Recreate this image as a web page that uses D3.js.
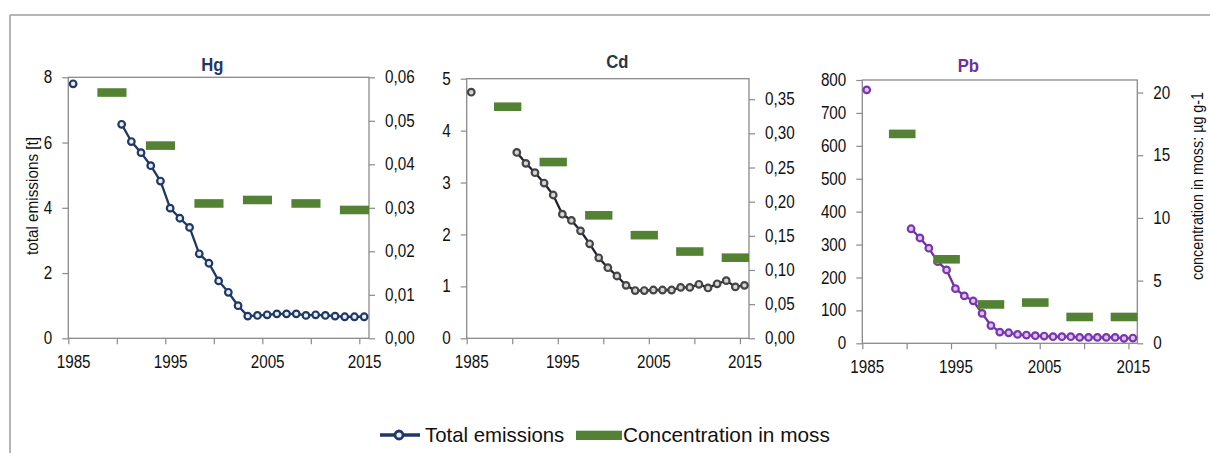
<!DOCTYPE html>
<html><head><meta charset="utf-8">
<script src="https://cdn.jsdelivr.net/npm/d3@7"></script>
<style>
body{margin:0;background:#fff}
svg{display:block}
text{font-family:"Liberation Sans",Arial,Helvetica,sans-serif}
</style>
</head><body>
<svg id="chart" width="1210" height="453"></svg>
<script>
// ---------- DATA ----------
const years = [1985,1986,1987,1988,1989,1990,1991,1992,1993,1994,1995,1996,1997,1998,1999,2000,
               2001,2002,2003,2004,2005,2006,2007,2008,2009,2010,2011,2012,2013,2014,2015];
const yearLabels = [1985,1995,2005,2015];
const yearTicks = [1985,1990,1995,2000,2005,2010,2015];

const hgEmissions = [7.80,null,null,null,null,6.56,6.03,5.69,5.29,4.82,3.99,3.68,3.40,2.59,2.30,1.76,
                     1.41,1.00,0.68,0.70,0.72,0.75,0.75,0.75,0.70,0.72,0.70,0.68,0.66,0.66,0.66];
const cdEmissions = [4.74,null,null,null,null,3.58,3.37,3.19,2.99,2.76,2.39,2.27,2.07,1.82,1.55,1.36,
                     1.20,1.02,0.92,0.92,0.93,0.93,0.93,0.98,0.98,1.04,0.97,1.05,1.11,0.99,1.02];
const pbEmissions = [770,null,null,null,null,348,320,289,248,223,166,144,129,91,54,34,
                     32,27,25,23,22,20,20,20,18,18,18,18,18,15,16];

const mossYears = [1990,1995,2000,2005,2010,2015];
const hgMoss = [0.0565,0.0443,0.0310,0.0318,0.0310,0.0295];
const cdMoss = [0.339,0.258,0.180,0.151,0.127,0.118];
const pbMoss = [16.7,6.7,3.1,3.25,2.1,2.1];

const hgLeftTicks = [0,2,4,6,8];
const hgRightTicks = [0,0.01,0.02,0.03,0.04,0.05,0.06];
const cdLeftTicks = [0,1,2,3,4,5];
const cdRightTicks = [0,0.05,0.10,0.15,0.20,0.25,0.30,0.35];
const pbLeftTicks = [0,100,200,300,400,500,600,700,800];
const pbRightTicks = [0,5,10,15,20];

const titles = ["Hg","Cd","Pb"];
const leftAxisTitle = "total emissions [t]";
const rightAxisTitle = "concentration in moss: µg g-1";
const legendLabels = ["Total emissions","Concentration in moss"];

// ---------- LAYOUT / STYLE ----------
const comma = d3.formatLocale({decimal:",",thousands:"\u00a0",grouping:[3],currency:["",""]});
const intFmt = d3.format("d");
const panels = [
  {title:titles[0], em:hgEmissions, moss:hgMoss, leftMax:8, leftTicks:hgLeftTicks,
   rightMax:0.06, rightTicks:hgRightTicks, rightFmt:comma.format(".2f"),
   box:{l:68.3,r:369,t:77.3,b:338.3}, titleX:212.3, titleY:71, titleColor:"#1f3864",
   line:"#1f3864", mStroke:"#1f3864", mFill:"#e9edf5"},
  {title:titles[1], em:cdEmissions, moss:cdMoss, leftMax:5, leftTicks:cdLeftTicks,
   rightMax:0.38, rightTicks:cdRightTicks, rightFmt:comma.format(".2f"),
   box:{l:466.7,r:749,t:78.7,b:338.3}, titleX:617.3, titleY:68.3, titleColor:"#2a3547",
   line:"#1e2530", mStroke:"#454545", mFill:"#d6d6d6"},
  {title:titles[2], em:pbEmissions, moss:pbMoss, leftMax:800, leftTicks:pbLeftTicks,
   rightMax:21, rightTicks:pbRightTicks, rightFmt:intFmt,
   box:{l:862.3,r:1137.3,t:80,b:343.3}, titleX:968.3, titleY:71.5, titleColor:"#7030a0",
   line:"#7030a0", mStroke:"#7a35b0", mFill:"#dcc6ee"}
];
const mossColor = "#548235";
const frameColor = "#8a8a8a";
const tickFont = 17.5;
const squeeze = 0.87;

function condense(sel, k){
  sel.each(function(){
    const L = this.getComputedTextLength();
    this.setAttribute("textLength", (L*k).toFixed(2));
    this.setAttribute("lengthAdjust","spacingAndGlyphs");
  });
}

const svg = d3.select("#chart");

// outer frame (top and left edges)
svg.append("line").attr("x1",10).attr("x2",1210).attr("y1",15).attr("y2",15)
  .attr("stroke","#b5b5b5").attr("stroke-width",2);
svg.append("line").attr("x1",10).attr("x2",10).attr("y1",15).attr("y2",453)
  .attr("stroke","#b5b5b5").attr("stroke-width",2);

panels.forEach(p => {
  const b = p.box;
  const x = d3.scaleLinear().domain([years[0]-0.5, years[years.length-1]+0.5]).range([b.l,b.r]);
  const yL = d3.scaleLinear().domain([0,p.leftMax]).range([b.b,b.t]);
  const yR = d3.scaleLinear().domain([0,p.rightMax]).range([b.b,b.t]);
  const g = svg.append("g");

  // plot frame
  g.append("rect").attr("x",b.l).attr("y",b.t).attr("width",b.r-b.l).attr("height",b.b-b.t)
    .attr("fill","none").attr("stroke",frameColor).attr("stroke-width",1.3);

  const aL = g.append("g").attr("transform",`translate(${b.l},0)`)
    .call(d3.axisLeft(yL).tickValues(p.leftTicks).tickFormat(intFmt).tickSize(6).tickPadding(10).tickSizeOuter(0));
  const aR = g.append("g").attr("transform",`translate(${b.r},0)`)
    .call(d3.axisRight(yR).tickValues(p.rightTicks).tickFormat(p.rightFmt).tickSize(6).tickPadding(10).tickSizeOuter(0));
  const aB = g.append("g").attr("transform",`translate(0,${b.b})`)
    .call(d3.axisBottom(x).tickValues(yearTicks.map(v=>v-0.5)).tickSize(6).tickFormat("").tickSizeOuter(0));
  const aBL = g.append("g").attr("transform",`translate(0,${b.b})`)
    .call(d3.axisBottom(x).tickValues(yearLabels).tickSize(0).tickPadding(17).tickFormat(intFmt));
  [aL,aR,aB,aBL].forEach(a=>{
    a.select(".domain").remove();
    a.selectAll(".tick line").attr("stroke",frameColor).attr("stroke-width",1.2);
    a.selectAll("text").attr("font-size",tickFont).attr("fill","#111").attr("font-family",null);
    condense(a.selectAll("text"), squeeze);
  });

  // emissions line
  const pts = years.map((yr,i)=>({yr, v:p.em[i]}));
  const lineGen = d3.line().defined(d=>d.v!=null).x(d=>x(d.yr)).y(d=>yL(d.v));
  g.append("path").datum(pts).attr("d",lineGen).attr("fill","none")
    .attr("stroke",p.line).attr("stroke-width",2.3);
  g.selectAll("circle.m").data(pts.filter(d=>d.v!=null)).join("circle").attr("class","m")
    .attr("cx",d=>x(d.yr)).attr("cy",d=>yL(d.v)).attr("r",3.3)
    .attr("fill",p.mFill).attr("stroke",p.mStroke).attr("stroke-width",2.2);

  // moss concentration dashes (3-year window ending at survey year)
  g.selectAll("rect.moss").data(mossYears.map((yr,i)=>({yr,v:p.moss[i]}))).join("rect").attr("class","moss")
    .attr("x",d=>x(d.yr-2.5)).attr("width",d=>x(d.yr+0.5)-x(d.yr-2.5))
    .attr("y",d=>yR(d.v)-4.3).attr("height",8.6).attr("fill",mossColor);

  // title
  const t = g.append("text").attr("x",p.titleX).attr("y",p.titleY).attr("text-anchor","middle")
    .attr("font-size",18.5).attr("font-weight","bold").attr("fill",p.titleColor).text(p.title);
  condense(t, 0.9);
});

// axis titles
svg.append("text").attr("transform","translate(38,196) rotate(-90)").attr("text-anchor","middle")
  .attr("font-size",16.5).attr("fill","#111").attr("textLength",118).attr("lengthAdjust","spacingAndGlyphs")
  .text(leftAxisTitle);
svg.append("text").attr("transform","translate(1203,186) rotate(-90)").attr("text-anchor","middle")
  .attr("font-size",16).attr("fill","#111").attr("textLength",188).attr("lengthAdjust","spacingAndGlyphs")
  .text(rightAxisTitle);

// legend
const lg = svg.append("g");
lg.append("line").attr("x1",380).attr("x2",420).attr("y1",435).attr("y2",435)
  .attr("stroke","#1f3864").attr("stroke-width",3.5);
lg.append("circle").attr("cx",399).attr("cy",435).attr("r",4)
  .attr("fill","#e9edf5").attr("stroke","#1f3864").attr("stroke-width",2.8);
const lt1 = lg.append("text").attr("x",425).attr("y",441.7).attr("font-size",21).attr("fill","#111").text(legendLabels[0]);
lg.append("rect").attr("x",576).attr("y",430.7).attr("width",46).attr("height",9.3).attr("fill",mossColor);
const lt2 = lg.append("text").attr("x",623).attr("y",441.7).attr("font-size",21).attr("fill","#111").text(legendLabels[1]);
condense(lt1, 0.97); condense(lt2, 0.99);
</script>
</body></html>
